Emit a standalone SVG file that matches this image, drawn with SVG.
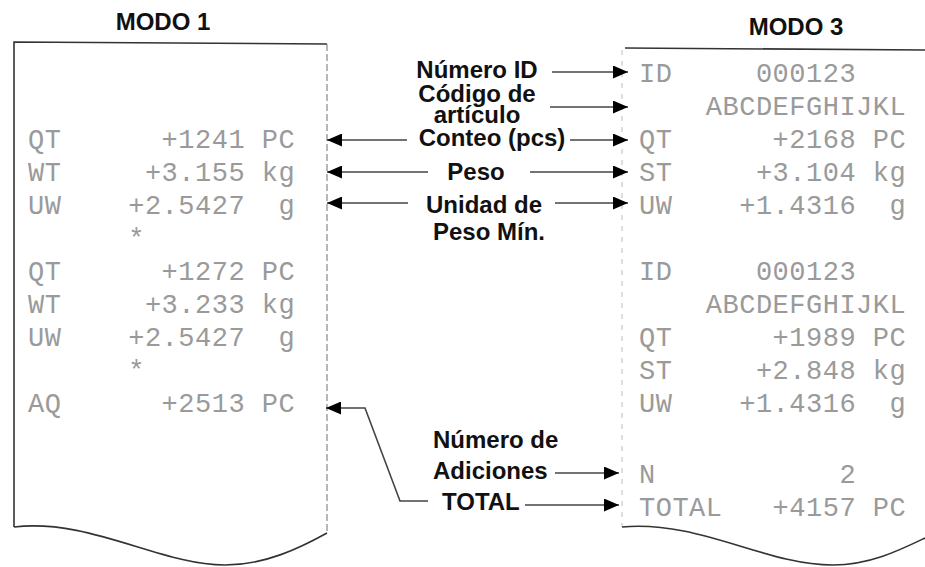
<svg xmlns="http://www.w3.org/2000/svg" width="925" height="567" viewBox="0 0 925 567">
<style>
.m{font-family:"Liberation Mono","DejaVu Sans Mono",monospace;font-size:27px;letter-spacing:0.5px;fill:#9a9a9a}
.b{font-family:"Liberation Sans",Arial,sans-serif;font-size:24px;font-weight:bold;fill:#111}
.c{text-anchor:middle}
.edge{fill:none;stroke:#333;stroke-width:1.6}
.faint{fill:none;stroke:#888;stroke-width:1.2;stroke-dasharray:7 3}
.faint2{fill:none;stroke:#c8c8c8;stroke-width:1.2;stroke-dasharray:5 6}
.conn{fill:none;stroke:#444;stroke-width:1.6;marker-end:url(#ah)}
</style>
<defs>
<marker id="ah" markerUnits="userSpaceOnUse" markerWidth="16" markerHeight="13" refX="15" refY="6.5" orient="auto">
<path d="M0,0 L15,6.5 L0,13 z" fill="#000"/>
</marker>
</defs>
<rect width="925" height="567" fill="#fff"/>

<g id="modo1">
<text class="b c" x="163" y="30">MODO 1</text>
<path class="edge" d="M14,527 V42 L327,44"/>
<path class="faint" d="M327,44 V533"/>
<path class="edge" d="M14,527 C90,518 160,565 225,565 C265,565 300,548 327,533"/>
<g class="m">
<text x="28" y="148">QT</text><text x="161.6" y="148">+1241</text><text x="261.8" y="148">PC</text>
<text x="28" y="181">WT</text><text x="144.9" y="181">+3.155</text><text x="261.8" y="181">kg</text>
<text x="28" y="214">UW</text><text x="128.2" y="214">+2.5427</text><text x="278.5" y="214">g</text>
<text x="128.2" y="247">*</text>
<text x="28" y="280">QT</text><text x="161.6" y="280">+1272</text><text x="261.8" y="280">PC</text>
<text x="28" y="313">WT</text><text x="144.9" y="313">+3.233</text><text x="261.8" y="313">kg</text>
<text x="28" y="346">UW</text><text x="128.2" y="346">+2.5427</text><text x="278.5" y="346">g</text>
<text x="128.2" y="379">*</text>
<text x="28" y="412">AQ</text><text x="161.6" y="412">+2513</text><text x="261.8" y="412">PC</text>
</g>
</g>

<g id="modo3">
<text class="b c" x="796" y="35">MODO 3</text>
<path class="edge" d="M625,48 L925,50"/>
<path class="faint2" d="M622,50 V527"/>
<path class="edge" d="M622,527 C700,520 765,565 833,565 C870,565 900,550 925,538"/>
<g class="m">
<text x="639" y="82">ID</text><text x="755.9" y="82">000123</text>
<text x="705.8" y="115">ABCDEFGHIJKL</text>
<text x="639" y="148">QT</text><text x="772.6" y="148">+2168</text><text x="872.8" y="148">PC</text>
<text x="639" y="181">ST</text><text x="755.9" y="181">+3.104</text><text x="872.8" y="181">kg</text>
<text x="639" y="214">UW</text><text x="739.2" y="214">+1.4316</text><text x="889.5" y="214">g</text>
<text x="639" y="280">ID</text><text x="755.9" y="280">000123</text>
<text x="705.8" y="313">ABCDEFGHIJKL</text>
<text x="639" y="346">QT</text><text x="772.6" y="346">+1989</text><text x="872.8" y="346">PC</text>
<text x="639" y="379">ST</text><text x="755.9" y="379">+2.848</text><text x="872.8" y="379">kg</text>
<text x="639" y="412">UW</text><text x="739.2" y="412">+1.4316</text><text x="889.5" y="412">g</text>
<text x="639" y="483">N</text><text x="839.4" y="483">2</text>
<text x="639" y="516">TOTAL</text><text x="772.6" y="516">+4157</text><text x="872.8" y="516">PC</text>
</g>
</g>

<g id="labels">
<text class="b c" x="477" y="78">Número ID</text>
<text class="b c" x="477" y="102">Código de</text>
<text class="b c" x="477" y="123">artículo</text>
<text class="b c" x="492" y="146">Conteo (pcs)</text>
<text class="b c" x="476" y="180">Peso</text>
<text class="b c" x="484" y="213">Unidad de</text>
<text class="b c" x="489" y="240">Peso Mín.</text>
<text class="b" x="433" y="448">Número de</text>
<text class="b" x="433" y="479">Adiciones</text>
<text class="b" x="442" y="510">TOTAL</text>
</g>

<g id="connectors">
<path class="conn" d="M552,72 H628"/>
<path class="conn" d="M550,107 H628"/>
<path class="conn" d="M407,140 H327"/>
<path class="conn" d="M570,140 H628"/>
<path class="conn" d="M428,172 H327"/>
<path class="conn" d="M530,172 H628"/>
<path class="conn" d="M408,203 H327"/>
<path class="conn" d="M555,203 H628"/>
<path class="conn" d="M555,473 H619"/>
<path class="conn" d="M525,505 H619"/>
<path class="conn" d="M428,501 H400 L365,408 H326"/>
</g>
</svg>
